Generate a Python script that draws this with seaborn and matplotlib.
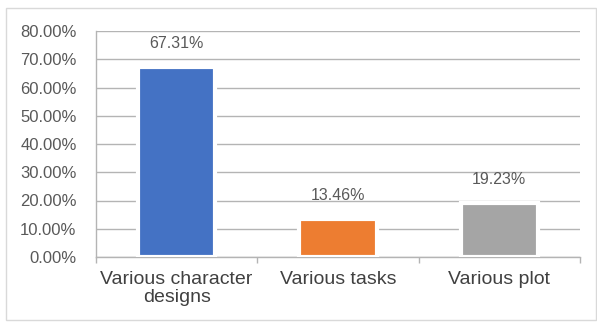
import matplotlib
matplotlib.use("Agg")
import matplotlib.pyplot as plt
import seaborn as sns
import pandas as pd
from matplotlib.patches import Rectangle

categories = ["Various character\ndesigns", "Various tasks", "Various plot"]
values = [67.31, 13.46, 19.23]
value_labels = ["67.31%", "13.46%", "19.23%"]
colors = ["#4472C4", "#ED7D31", "#A5A5A5"]
yticks = [0, 10, 20, 30, 40, 50, 60, 70, 80]

sns.set_theme(style="white")
plt.rcParams["font.family"] = ["Liberation Sans", "DejaVu Sans"]

df = pd.DataFrame({"cat": categories, "val": values})

fig = plt.figure(figsize=(5.97, 3.23), dpi=100)
fig.patch.set_facecolor("white")
fig.patches.append(Rectangle((6 / 597, 3 / 323), 590 / 597, 312 / 323,
                             transform=fig.transFigure, fill=False,
                             edgecolor="#D9D9D9", linewidth=1))
ax = fig.add_axes([96 / 597, 1 - 257 / 323, 484 / 597, 226 / 323])

sns.barplot(data=df, x="cat", y="val", hue="cat", palette=colors,
            saturation=1, legend=False, width=0.48, ax=ax,
            edgecolor="white", linewidth=3, zorder=3)

ax.set_ylim(0, 80)
ax.set_xlim(-0.5, 2.5)
ax.set_yticks(yticks)
ax.set_yticklabels([f"{t:.2f}%" for t in yticks], fontsize=12, color="#595959")
ax.yaxis.grid(True, color="#B4B4B4", linewidth=1, zorder=0)
ax.set_axisbelow(True)
ax.set_xlabel("")
ax.set_ylabel("")

ax.set_xticks(range(len(categories)))
ax.set_xticklabels(categories, fontsize=14, color="#404040", linespacing=1.05)
ax.set_xticks([-0.5, 0.5, 1.5, 2.5], minor=True)
ax.tick_params(axis="x", which="major", length=0, pad=10)
ax.tick_params(axis="x", which="minor", length=4, width=1, color="#B4B4B4", bottom=True)
ax.tick_params(axis="y", length=0, pad=14)

for s in ["top", "right"]:
    ax.spines[s].set_visible(False)
for s in ["left", "bottom"]:
    ax.spines[s].set_visible(True)
    ax.spines[s].set_color("#B4B4B4")
    ax.spines[s].set_linewidth(1)

for i, (v, lab) in enumerate(zip(values, value_labels)):
    ax.annotate(lab, xy=(i, v), xytext=(0, 17), textcoords="offset points",
                ha="center", va="center", fontsize=11.5, color="#595959")

fig.savefig("out.png", dpi=100, facecolor="white")
